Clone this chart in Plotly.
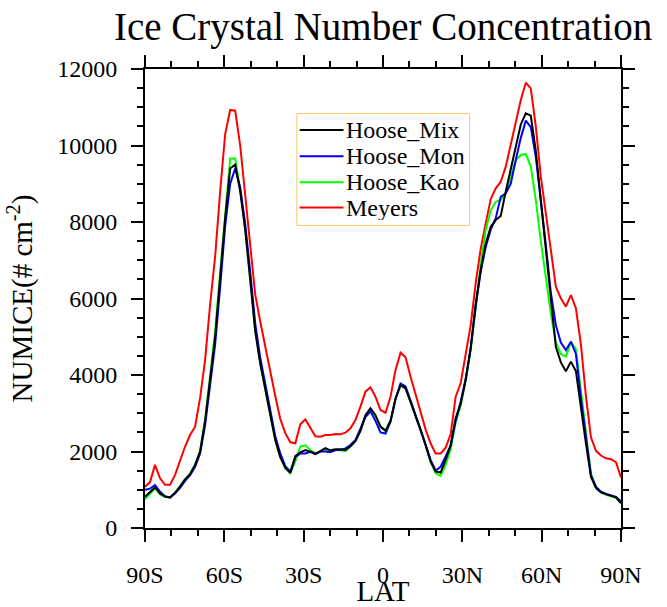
import numpy as np
import plotly.graph_objects as go

# 96-point latitude grid (FV 1.9 deg), 90S .. 90N
lat = np.linspace(-90.0, 90.0, 96)

hoose_mix = [
    820, 940, 1060, 900, 820, 800, 920, 1080, 1270, 1410,
    1650, 2000, 2800, 3900, 5000, 6550, 8100, 9400, 9500, 8800,
    7800, 6500, 5150, 4300, 3600, 2900, 2300, 1850, 1580, 1440,
    1880, 1980, 2040, 1995, 1940, 2010, 2090, 2030, 2060, 2060,
    2040, 2140, 2270, 2540, 2950, 3130, 2950, 2650, 2540, 2800,
    3380, 3740, 3650, 3300, 2950, 2560, 2170, 1740, 1480, 1450,
    1780, 2170, 2870, 3250, 3870, 4700, 5850, 6750, 7440, 7880,
    8050, 8160, 8800, 9400, 10000, 10550, 10840, 10780, 9850, 8500,
    7270, 6000, 4740, 4330, 4100, 4350, 4100, 3090, 2210, 1340,
    1050, 930, 880, 850, 800, 650,
]

hoose_mon = [
    1000, 1030, 1120, 950, 830, 800, 900, 1050, 1230, 1380,
    1600, 1950, 2700, 3700, 4800, 6300, 7900, 9000, 9400, 8900,
    7950, 6700, 5350, 4450, 3750, 3050, 2400, 1950, 1620, 1470,
    1850, 1950, 1950, 1990, 1930, 2000, 2000, 1980, 2040, 2040,
    2080, 2170, 2300, 2600, 2900, 3050, 2800, 2500, 2470, 2780,
    3380, 3780, 3700, 3330, 2970, 2570, 2180, 1780, 1500, 1600,
    1870, 2150, 2800, 3300, 3900, 4700, 5800, 6700, 7350, 7800,
    8100, 8660, 8750, 9000, 9620, 10200, 10650, 10480, 9700, 8600,
    7400, 6150, 5300, 4850, 4650, 4870, 4550, 3400, 2350, 1380,
    1080, 950, 890, 860, 810, 700,
]

hoose_kao = [
    750, 900, 1040, 880, 810, 790, 930, 1100, 1280, 1420,
    1660, 2020, 2850, 4000, 5150, 6700, 8300, 9660, 9660, 8850,
    7800, 6500, 5150, 4300, 3600, 2900, 2300, 1850, 1560, 1430,
    1750, 2130, 2160, 2040, 1950, 2000, 2060, 2010, 2040, 2030,
    2010, 2130, 2280, 2540, 2930, 3100, 2930, 2650, 2560, 2820,
    3370, 3720, 3650, 3300, 2950, 2560, 2160, 1720, 1430, 1360,
    1650, 2050, 2750, 3200, 3850, 4650, 5750, 6900, 7790, 8300,
    8530, 8575, 8750, 9185, 9620, 9751, 9780, 9450, 8575, 7500,
    6600, 5600, 4850, 4550, 4480, 4870, 4680, 3600, 2450, 1420,
    1050, 930, 870, 840, 790, 650,
]

meyers = [
    1080, 1200, 1650, 1300, 1130, 1130, 1390, 1760, 2130, 2430,
    2650, 3400, 4400, 5850, 7100, 8800, 10300, 10930, 10910, 10000,
    8750, 7350, 6100, 5400, 4700, 4100, 3450, 2850, 2480, 2240,
    2214, 2710, 2840, 2606, 2400, 2388, 2431, 2431, 2457, 2449,
    2492, 2606, 2824, 3172, 3564, 3677, 3433, 3085, 3015, 3433,
    4131, 4584, 4462, 3956, 3520, 3050, 2580, 2214, 1945, 1950,
    2100, 2450, 3433, 3782, 4566, 5300, 6400, 7300, 7965, 8600,
    8880, 9053, 9446, 10057, 10667, 11190, 11643, 11495, 10492, 9185,
    8227, 7268, 6309, 6004, 5786, 6091, 5744, 4800, 3450, 2370,
    2017, 1895, 1822, 1800, 1720, 1320,
]

# drawing order: first entry at the bottom, black on top
series = [
    ("Meyers", meyers, "#ff0000"),
    ("Hoose_Kao", hoose_kao, "#00ff00"),
    ("Hoose_Mon", hoose_mon, "#0000ff"),
    ("Hoose_Mix", hoose_mix, "#000000"),
]
legend_order = ["Hoose_Mix", "Hoose_Mon", "Hoose_Kao", "Meyers"]

lat_ticks = [-90, -60, -30, 0, 30, 60, 90]
lat_labels = ["90S", "60S", "30S", "0", "30N", "60N", "90N"]
num_ticks = [0, 2000, 4000, 6000, 8000, 10000, 12000]
num_labels = [str(v) for v in num_ticks]

FONT = "Liberation Serif"

fig = go.Figure()
for name, vals, color in series:
    fig.add_trace(go.Scatter(
        x=lat, y=vals, mode="lines", name=name,
        line=dict(color=color, width=2), showlegend=False,
    ))

# framed legend box drawn in paper coordinates
colors = {n: c for n, _, c in series}
box_x0, box_x1 = 0.319, 0.682
box_y0, box_y1 = 0.659, 0.903
fig.add_shape(type="rect", xref="paper", yref="paper",
              x0=box_x0, x1=box_x1, y0=box_y0, y1=box_y1,
              line=dict(color="#ffc46a", width=1), fillcolor="white",
              layer="above")
row_y = [0.867, 0.810, 0.753, 0.698]
for name, yy in zip(legend_order, row_y):
    fig.add_shape(type="line", xref="paper", yref="paper",
                  x0=0.325, x1=0.417, y0=yy, y1=yy,
                  line=dict(color=colors[name], width=2), layer="above")
    fig.add_annotation(xref="paper", yref="paper", x=0.419, y=yy,
                       xanchor="left", yanchor="middle", text=name,
                       showarrow=False, height=24,
                       font=dict(family=FONT, size=24, color="black"))

axis_common = dict(
    showline=True, linecolor="black", linewidth=2, mirror="allticks",
    ticks="outside", ticklen=12, tickwidth=1.5, tickcolor="black",
    showgrid=False, zeroline=False, automargin=False,
    tickfont=dict(family=FONT, size=24, color="black"),
)

fig.update_layout(
    width=667, height=607,
    margin=dict(l=145, r=46, t=69, b=79),
    paper_bgcolor="white", plot_bgcolor="white",
    font=dict(family=FONT, color="black"),
    title=dict(
        text="Ice Crystal Number Concentration",
        font=dict(family=FONT, size=39, color="black"),
        x=0.5743, xanchor="center", y=0.956, yanchor="middle",
    ),
    xaxis=dict(
        range=[-90, 90], tickvals=lat_ticks, ticktext=lat_labels,
        minor=dict(dtick=10, tick0=-90, ticks="outside", ticklen=6,
                   tickwidth=1.5, tickcolor="black"),
        title=dict(text="LAT", font=dict(family=FONT, size=29), standoff=2),
        ticklabelstandoff=12,
        **axis_common,
    ),
    yaxis=dict(
        range=[0, 12000], tickvals=num_ticks, ticktext=num_labels,
        minor=dict(dtick=500, ticks="outside", ticklen=6,
                   tickwidth=1.5, tickcolor="black"),
        title=dict(text="NUMICE(# cm<sup>-2</sup>)",
                   font=dict(family=FONT, size=29), standoff=16),
        ticklabelstandoff=9,
        **axis_common,
    ),
    showlegend=False,
)

fig.write_html("out.html")
